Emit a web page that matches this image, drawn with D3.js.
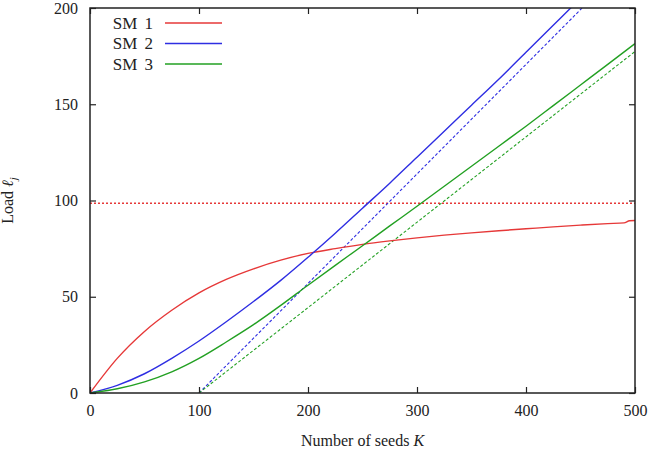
<!DOCTYPE html>
<html>
<head>
<meta charset="utf-8">
<script src="https://cdn.jsdelivr.net/npm/d3@7"></script>
<style>
  body { margin: 0; background: #fff; }
  svg text { font-family: "Liberation Serif", "Times New Roman", Times, serif; fill: #222; }
</style>
</head>
<body>
<div id="chart"></div>
<script>
  // number of seeds K
  var seeds = [0, 25, 50, 75, 100, 125, 150, 175, 200, 225, 250, 275, 300, 325, 350, 375, 400, 425, 441, 450, 475, 500]
  var redSeeds = [0, 25, 50, 75, 100, 125, 150, 175, 200, 225, 250, 275, 300, 325, 350, 375, 400, 425, 450, 475, 490, 495, 500]
  var greenSeeds = [0, 25, 50, 75, 100, 125, 150, 175, 200, 225, 250, 275, 300, 325, 350, 375, 400, 425, 450, 475, 500]

  // load values
  var sm1 = [0, 18, 32, 43, 52, 59, 64.5, 69, 72.5, 75, 77.2, 79, 80.6, 82, 83.2, 84.3, 85.3, 86.3, 87.2, 88, 88.4, 89.5, 89.6]
  var sm2 = [0, 4, 10, 18, 27, 37, 47.5, 58.5, 70.5, 83, 96, 109, 122.5, 136, 149.5, 163, 177, 191, 200, 205, 219, 233]
  var sm3 = [0, 2.2, 5.8, 11, 18, 26.5, 35.5, 45.5, 56, 66.3, 76.5, 86.8, 97, 107.4, 117.8, 128.2, 138.6, 149.3, 160, 170.7, 181.5]

  // asymptotes (dashed) and the capacity level (dotted)
  var dashSeeds = [100, 500]
  var sm2Asym = [0, 227.6]
  var sm3Asym = [0, 177.4]
  var capSeeds = [0, 500]
  var capacity = [98.6, 98.6]

  var xTicks = [0, 100, 200, 300, 400, 500]
  var yTicks = [0, 50, 100, 150, 200]
  var legendNames = ["SM 1", "SM 2", "SM 3"]
  var colors = ["#e63838", "#2e2ee2", "#22a022"]

  var margin = { top: 8, left: 90, right: 16, bottom: 60 },
    width = 651 - margin.left - margin.right,
    height = 453 - margin.top - margin.bottom

  var svg = d3.select("#chart")
    .append("svg")
    .attr("width", 651)
    .attr("height", 453)
    .append("g")
    .attr("transform", "translate(" + margin.left + "," + margin.top + ")")

  var xPositionScale = d3.scaleLinear().domain([0, 500]).range([0, width])
  var yPositionScale = d3.scaleLinear().domain([0, 200]).range([height, 0])

  svg.append("clipPath").attr("id", "plot-clip")
    .append("rect").attr("width", width).attr("height", height)

  var plot = svg.append("g").attr("clip-path", "url(#plot-clip)")

  function pairs(xs, ys) {
    return xs.map(function(k, i) { return [k, ys[i]] })
  }

  var smooth = d3.line()
    .x(function(d) { return xPositionScale(d[0]) })
    .y(function(d) { return yPositionScale(d[1]) })
    .curve(d3.curveMonotoneX)

  // capacity line
  plot.append("path")
    .attr("d", smooth(pairs(capSeeds, capacity)))
    .attr("fill", "none")
    .attr("stroke", colors[0])
    .attr("stroke-width", 1.6)
    .attr("stroke-dasharray", "2,2")

  // asymptotes
  plot.append("path")
    .attr("d", smooth(pairs(dashSeeds, sm2Asym)))
    .attr("fill", "none")
    .attr("stroke", colors[1])
    .attr("stroke-width", 1.1)
    .attr("stroke-dasharray", "3,2")

  plot.append("path")
    .attr("d", smooth(pairs(dashSeeds, sm3Asym)))
    .attr("fill", "none")
    .attr("stroke", colors[2])
    .attr("stroke-width", 1.1)
    .attr("stroke-dasharray", "3,2")

  var series = [pairs(redSeeds, sm1), pairs(seeds, sm2), pairs(greenSeeds, sm3)]

  plot.selectAll(".series")
    .data(series)
    .enter().append("path")
    .attr("class", "series")
    .attr("d", smooth)
    .attr("fill", "none")
    .attr("stroke", function(d, i) { return colors[i] })
    .attr("stroke-width", 1.4)

  // frame with inward ticks on all four sides
  svg.append("rect")
    .attr("width", width)
    .attr("height", height)
    .attr("fill", "none")
    .attr("stroke", "#222")
    .attr("stroke-width", 1.5)

  var xAxis = d3.axisBottom(xPositionScale).tickValues(xTicks).tickSize(-6).tickPadding(12)
  svg.append("g")
    .attr("class", "axis x-axis")
    .attr("transform", "translate(0," + height + ")")
    .call(xAxis)

  var xAxisTop = d3.axisTop(xPositionScale).tickValues(xTicks).tickSize(-6).tickFormat("")
  svg.append("g").attr("class", "axis").call(xAxisTop)

  var yAxis = d3.axisLeft(yPositionScale).tickValues(yTicks).tickSize(-6).tickPadding(12)
  svg.append("g")
    .attr("class", "axis y-axis")
    .call(yAxis)

  var yAxisRight = d3.axisRight(yPositionScale).tickValues(yTicks).tickSize(-6).tickFormat("")
  svg.append("g").attr("class", "axis")
    .attr("transform", "translate(" + width + ",0)")
    .call(yAxisRight)

  svg.selectAll(".domain").remove()
  svg.selectAll(".axis").attr("font-family", null)
  svg.selectAll(".tick line").attr("stroke", "#222").attr("stroke-width", 1.2)
  svg.selectAll(".tick text")
    .attr("font-size", 16)
    .attr("fill", "#222")

  // axis titles
  var xTitle = svg.append("text")
    .attr("x", width / 2)
    .attr("y", height + 53)
    .attr("text-anchor", "middle")
    .attr("font-size", 16)
  xTitle.append("tspan").text("Number of seeds ")
  xTitle.append("tspan").attr("font-style", "italic").text("K")

  var yTitle = svg.append("text")
    .attr("transform", "translate(" + (-77) + "," + (height / 2) + ") rotate(-90)")
    .attr("text-anchor", "middle")
    .attr("font-size", 16)
  yTitle.append("tspan").text("Load ")
  yTitle.append("tspan").attr("font-style", "italic").text("ℓ")
  yTitle.append("tspan").attr("font-style", "italic").attr("font-size", 11).attr("dy", 4).text("j")

  // legend
  var legend = svg.selectAll(".legend")
    .data(legendNames)
    .enter().append("g")
    .attr("class", "legend")
    .attr("transform", function(d, i) { return "translate(0," + (15 + i * 20.5) + ")" })

  legend.append("text")
    .attr("x", 63)
    .attr("dy", "0.35em")
    .attr("text-anchor", "end")
    .attr("font-size", 17)
    .attr("word-spacing", 3)
    .text(function(d) { return d })

  legend.append("line")
    .attr("x1", 75)
    .attr("x2", 132)
    .attr("stroke", function(d, i) { return colors[i] })
    .attr("stroke-width", 1.4)
</script>
</body>
</html>
